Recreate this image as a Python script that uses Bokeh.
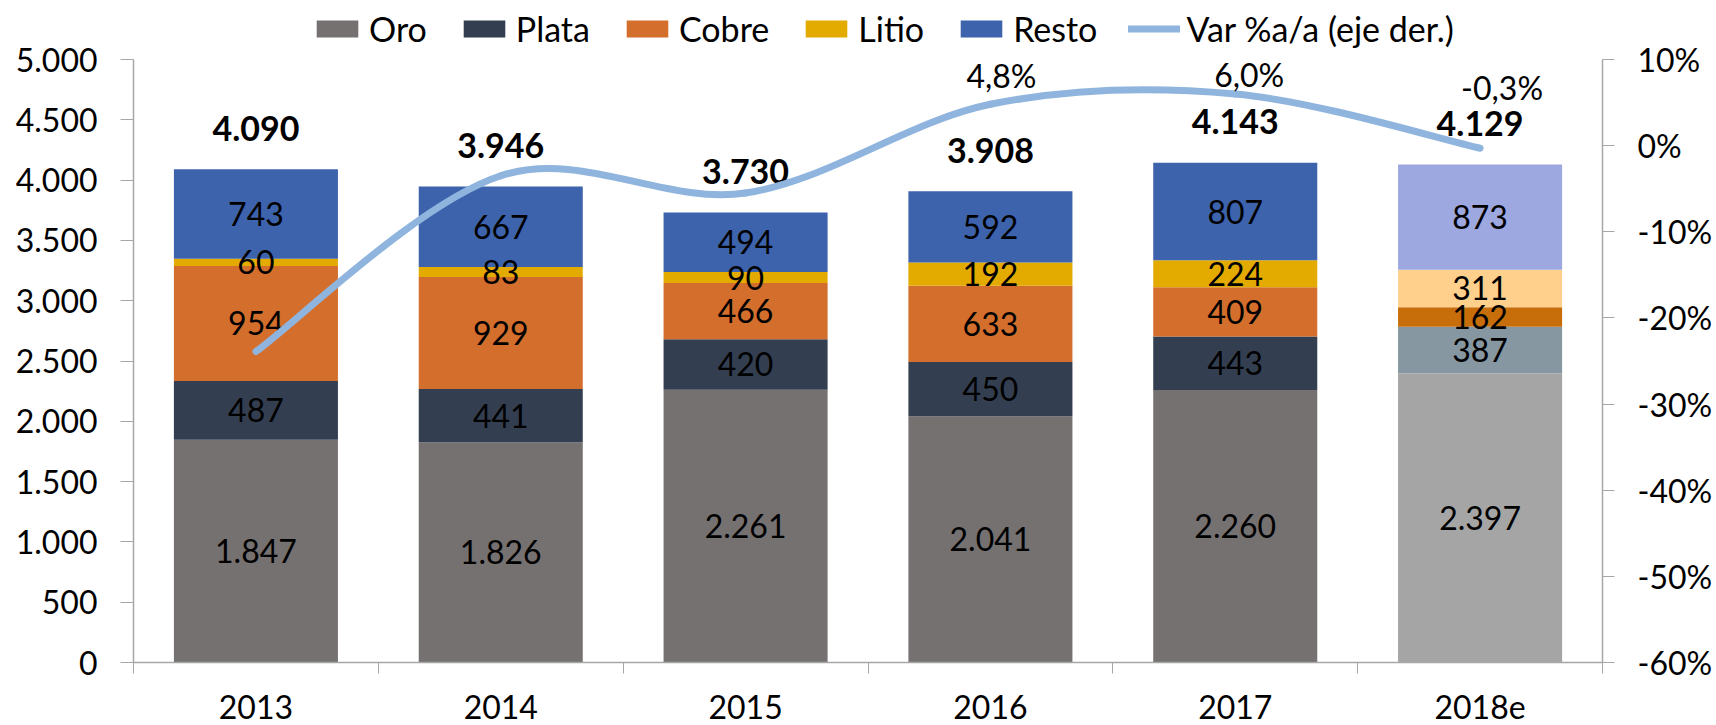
from bokeh.plotting import figure
from bokeh.models import (ColumnDataSource, Range1d, LinearAxis, FixedTicker,
                          Legend, LegendItem)
from bokeh.core.properties import value
from bokeh.embed import file_html
from bokeh.resources import INLINE

# ---------------- data ----------------
years = ["2013", "2014", "2015", "2016", "2017", "2018e"]
oro = [1847, 1826, 2261, 2041, 2260, 2397]
plata = [487, 441, 420, 450, 443, 387]
cobre = [954, 929, 466, 633, 409, 162]
litio = [60, 83, 90, 192, 224, 311]
resto = [743, 667, 494, 592, 807, 873]
totales = [4090, 3946, 3730, 3908, 4143, 4129]
var_pct = [-23.9, -3.5, -5.5, 4.8, 6.0, -0.3]
var_labels = ["", "", "", "4,8%", "6,0%", "-0,3%"]
series_names = ["Oro", "Plata", "Cobre", "Litio", "Resto"]
y_ticks = [0, 500, 1000, 1500, 2000, 2500, 3000, 3500, 4000, 4500, 5000]
pct_ticks = [-60, -50, -40, -30, -20, -10, 0, 10]

# ---------------- styles ----------------
colors_main = ["#757171", "#333F50", "#D46E2C", "#E3AA00", "#3C63AC"]
colors_est = ["#A5A5A5", "#8697A1", "#C76E0B", "#FFD08C", "#9DA8E0"]
line_color = "#8FB4DE"
axis_color = "#A6A6A6"
FONT = "Lato"
FS = "32px"
FS_BIG = "34px"
pct_dx = [0, 0, 0, 11, 14, 22]
pct_dy = [0, 0, 0, -29, -19, -61]

# layout: frame spans the full height above the x axis (662 px); the value
# axes occupy the lower 603 px, the legend sits in the band on top.
FRAME_H = 662
AXIS_H = 603
Y_MIN, Y_MAX = 0, 5000
P_MIN, P_MAX = -60, 10
y_top = Y_MIN + (Y_MAX - Y_MIN) * FRAME_H / AXIS_H
p_top = P_MIN + (P_MAX - P_MIN) * FRAME_H / AXIS_H


def fmt_thousands(v):
    return f"{v:,}".replace(",", ".")


n = len(years)
xs = [i + 0.5 for i in range(n)]
values = [oro, plata, cobre, litio, resto]

data = dict(x=xs)
for name, vals, cm, ce in zip(series_names, values, colors_main, colors_est):
    data[name] = vals
    data["c_" + name] = [cm] * (n - 1) + [ce]
src = ColumnDataSource(data)

p = figure(width=1716, height=725, output_backend="svg", toolbar_location=None,
           x_range=Range1d(0, n), y_range=Range1d(Y_MIN, y_top),
           min_border_left=133, min_border_right=114,
           min_border_top=0, min_border_bottom=63)
p.extra_y_ranges = {"pct": Range1d(P_MIN, p_top)}
p.outline_line_color = None
p.xgrid.grid_line_color = None
p.ygrid.grid_line_color = None
p.background_fill_color = "white"
p.border_fill_color = "white"

bars = p.vbar_stack(series_names, x="x", width=0.67, source=src,
                    color=["c_" + s for s in series_names], line_color=None)

# segment labels
bottom = [0] * n
for name, vals in zip(series_names, values):
    mids = [b + v / 2 for b, v in zip(bottom, vals)]
    lsrc = ColumnDataSource(dict(x=xs, y=mids, t=[fmt_thousands(v) for v in vals]))
    p.text(x="x", y="y", text="t", source=lsrc, text_align="center",
           text_baseline="middle", text_font=value(FONT), text_font_size=FS,
           text_color="#000000")
    bottom = [b + v for b, v in zip(bottom, vals)]

# totals
tsrc = ColumnDataSource(dict(x=xs, y=totales, t=[fmt_thousands(v) for v in totales]))
p.text(x="x", y="y", text="t", source=tsrc, text_align="center",
       text_baseline="middle", text_font=value(FONT), text_font_size=FS_BIG,
       text_font_style="bold", text_color="#000000", y_offset=-41)

# smoothed variation line (bezier segments through the data points)
x0, y0, x1, y1, cx0, cy0, cx1, cy1 = [], [], [], [], [], [], [], []
for i in range(n - 1):
    prv = i - 1 if i > 0 else i
    nxt = i + 2 if i + 2 < n else i + 1
    x0.append(xs[i]); y0.append(var_pct[i])
    x1.append(xs[i + 1]); y1.append(var_pct[i + 1])
    cx0.append(xs[i] + (xs[i + 1] - xs[prv]) / 6)
    cy0.append(var_pct[i] + (var_pct[i + 1] - var_pct[prv]) / 6)
    cx1.append(xs[i + 1] - (xs[nxt] - xs[i]) / 6)
    cy1.append(var_pct[i + 1] - (var_pct[nxt] - var_pct[i]) / 6)
bsrc = ColumnDataSource(dict(x0=x0, y0=y0, x1=x1, y1=y1, cx0=cx0, cy0=cy0, cx1=cx1, cy1=cy1))
curve = p.bezier(x0="x0", y0="y0", x1="x1", y1="y1", cx0="cx0", cy0="cy0", cx1="cx1",
                 cy1="cy1", source=bsrc, y_range_name="pct", line_color=line_color,
                 line_width=7, line_cap="round")

psrc = ColumnDataSource(dict(x=xs, y=var_pct, t=var_labels, dx=pct_dx, dy=pct_dy))
p.text(x="x", y="y", text="t", source=psrc, y_range_name="pct",
       x_offset="dx", y_offset="dy", text_align="center", text_baseline="middle",
       text_font=value(FONT), text_font_size=FS, text_color="#000000")

# axes
xa = p.xaxis[0]
xa.ticker = FixedTicker(ticks=xs, minor_ticks=list(range(n + 1)))
xa.major_label_overrides = {x: y for x, y in zip(xs, years)}
xa.major_tick_out = 0
xa.major_tick_in = 0
xa.minor_tick_out = 11
xa.minor_tick_in = 0
xa.minor_tick_line_color = axis_color
xa.axis_line_color = axis_color
xa.axis_line_width = 1.5
xa.major_label_standoff = 21
xa.major_label_text_font = FONT
xa.major_label_text_font_size = FS
xa.major_label_text_color = "#000000"

ya = p.yaxis[0]
ya.ticker = FixedTicker(ticks=y_ticks)
ya.bounds = (Y_MIN, Y_MAX)
ya.major_label_overrides = {t: fmt_thousands(t) for t in y_ticks}
ya.major_tick_out = 13
ya.major_tick_in = 0
ya.minor_tick_line_color = None
ya.major_tick_line_color = axis_color
ya.axis_line_color = axis_color
ya.axis_line_width = 1.5
ya.major_label_standoff = 23
ya.major_label_text_font = FONT
ya.major_label_text_font_size = FS
ya.major_label_text_color = "#000000"

ra = LinearAxis(y_range_name="pct", ticker=FixedTicker(ticks=pct_ticks),
                bounds=(P_MIN, P_MAX))
ra.major_label_overrides = {t: f"{t}%" for t in pct_ticks}
ra.major_tick_out = 12
ra.major_tick_in = 0
ra.minor_tick_line_color = None
ra.major_tick_line_color = axis_color
ra.axis_line_color = axis_color
ra.axis_line_width = 1.5
ra.major_label_standoff = 23
ra.major_label_text_font = FONT
ra.major_label_text_font_size = FS
ra.major_label_text_color = "#000000"
p.add_layout(ra, "right")

# legend
items = [LegendItem(label=name, renderers=[r], index=0) for name, r in zip(series_names, bars)]
items.append(LegendItem(label="Var %a/a (eje der.)", renderers=[curve], index=0))
legend = Legend(items=items, orientation="horizontal", location=(178, 613),
                glyph_width=52, glyph_height=21, label_standoff=6, spacing=31,
                padding=0, margin=0, border_line_color=None,
                background_fill_alpha=0, label_text_font=FONT,
                label_text_font_size=FS_BIG, label_text_color="#000000",
                label_height=21)
p.add_layout(legend, "center")

open("out.html", "w").write(file_html(p, INLINE))
